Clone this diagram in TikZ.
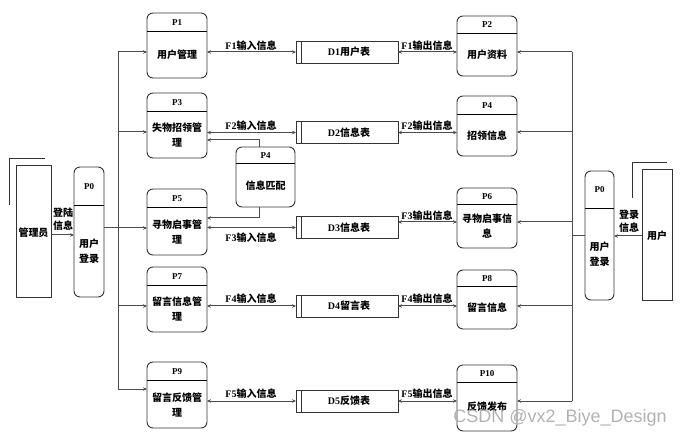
\documentclass[tikz,border=0pt]{standalone}
\usepackage{fontspec}
\setmainfont{Liberation Serif}
\newfontfamily\cjkf{Noto Sans CJK SC}
\newfontfamily\wmf{Liberation Sans}
\usetikzlibrary{arrows.meta,calc}
\newcommand\mkproc[8]{%
  \node[procbox, minimum width={#6*1pt}, minimum height={(#4-#3)*1pt}] (#1) at ({#2},{(#3+#4)/2}) {};
  \draw[divline] (#1.west |- 0,#5) -- (#1.east |- 0,#5);
  \node[titletext] (#1t) at ({#2},{(#3+#5)/2}) {#7};
  \node[bodytext, text width={(#6-6)*1pt}] (#1b) at ({#2},{(#5+#4)/2}) {#8};
}
\begin{document}
\begin{tikzpicture}[x=1pt,y=-1pt,
  procbox/.style={draw=black!80, line width=0.9pt, rounded corners=6pt, inner sep=0pt, outer sep=0pt},
  divline/.style={draw=black, line width=1pt},
  titletext/.style={font=\bfseries\fontsize{9}{10}\selectfont, inner sep=0pt},
  bodytext/.style={font=\cjkf\bfseries\fontsize{10}{15}\selectfont, align=center, inner sep=0pt},
  storebox/.style={draw=black!80, line width=0.8pt, minimum width=102pt, minimum height=22pt, inner sep=0pt, outer sep=0pt},
  entity/.style={draw=black!80, line width=0.9pt, inner sep=0pt, outer sep=0pt},
  conn/.style={draw=black!70, line width=1pt},
  arr/.style={conn, -{Stealth[length=4pt,width=3.5pt]}},
  biarr/.style={conn, {Stealth[length=4pt,width=3.5pt]}-{Stealth[length=4pt,width=3.5pt]}},
  flowlbl/.style={font=\fontsize{10}{12}\selectfont\bfseries, inner sep=0pt},
]
\useasboundingbox (0,0) rectangle (683,438);

% external entities
\node[entity, minimum width=35pt, minimum height=132pt] (admin) at (33.5,231) {};
\node[bodytext] (admint) at (33.5,233) {管理员};
\draw[entity] (9,205) -- (9,158) -- (45,158);
\node[entity, minimum width=30pt, minimum height=131pt] (user) at (657,234.5) {};
\node[bodytext] (usert) at (657,236) {用户};
\draw[entity] (632,198) -- (632,162) -- (667,162);

% P0 login boxes
\mkproc{lp0}{89}{167}{297}{206}{30}{P0}{\fontsize{10}{14}\selectfont 用户\\登录}
\mkproc{rp0}{599.5}{171}{300}{209}{29}{P0}{\fontsize{10}{14}\selectfont 用户\\登录}

% left processes
\mkproc{p1}{177}{13}{78}{32}{60}{P1}{用户管理}
\mkproc{p3}{177}{93}{158}{112}{60}{P3}{失物招领管\\理}
\mkproc{p5}{177}{189}{255}{208}{60}{P5}{寻物启事管\\理}
\mkproc{p7}{177}{267}{332}{286}{60}{P7}{留言信息管\\理}
\mkproc{p9}{177}{362}{428}{381}{60}{P9}{留言反馈管\\理}

% right processes
\mkproc{p2}{487}{16}{76}{34}{60}{P2}{用户资料}
\mkproc{p4}{487}{96}{156}{115}{60}{P4}{招领信息}
\mkproc{p6}{487}{188}{248}{205}{60}{P6}{寻物启事信\\息}
\mkproc{p8}{487}{270}{329}{287}{60}{P8}{留言信息}
\mkproc{p10}{487}{365}{431}{383}{60}{P10}{反馈发布}

% middle P4
\mkproc{pm4}{265.5}{147}{207}{164}{59}{P4}{信息匹配}

% data stores
\foreach \n/\y in {d1/52, d2/132.5, d3/227.5, d4/306, d5/401}{
  \node[storebox] (\n) at (347,\y) {};
  \draw[entity] ($(\n.north west)+(5,0)$) -- ($(\n.south west)+(5,0)$);
}
\node[flowlbl] (d1t) at (349,52) {D1{\cjkf 用户表}};
\node[flowlbl] (d2t) at (349,132.5) {D2{\cjkf 信息表}};
\node[flowlbl] (d3t) at (349,227.5) {D3{\cjkf 信息表}};
\node[flowlbl] (d4t) at (349,306) {D4{\cjkf 留言表}};
\node[flowlbl] (d5t) at (349,401) {D5{\cjkf 反馈表}};

% login arrows
\draw[arr] (admin.east |- 0,235) -- (lp0.west |- 0,235);
\node[bodytext, font=\cjkf\bfseries\fontsize{10}{13}\selectfont] (l1) at (63,219) {登陆\\信息};
\draw[arr] (user.west |- 0,236) -- (rp0.east |- 0,236);
\node[bodytext, font=\cjkf\bfseries\fontsize{10}{13}\selectfont] (l2) at (629,221) {登录\\信息};

% left bus
\coordinate (lbt) at (118,52);
\coordinate (lbb) at (118,389);
\draw[conn] (lp0.east |- 0,228) -- (118,228);
\draw[conn] (lbt) -- (lbb);
\draw[arr] (lbt) -- (p1.west |- lbt);
\draw[arr] (118,132) -- (p3.west |- 0,132);
\draw[arr] (118,228) -- (p5.west |- 0,228);
\draw[arr] (118,306) -- (p7.west |- 0,306);
\draw[arr] (lbb) -- (p9.west |- lbb);

% right bus
\coordinate (rbt) at (572,52);
\coordinate (rbb) at (572,401);
\draw[conn] (rp0.west |- 0,236) -- (572,236);
\draw[conn] (rbt) -- (rbb);
\draw[arr] (rbt) -- (p2.east |- rbt);
\draw[arr] (572,132) -- (p4.east |- 0,132);
\draw[arr] (572,222) -- (p6.east |- 0,222);
\draw[arr] (572,306) -- (p8.east |- 0,306);
\draw[arr] (rbb) -- (p10.east |- rbb);

% P4 match links
\draw[arr] ($(pm4.north)+(-6.5,0)$) |- (p3.east |- 0,140);
\draw[arr] ($(pm4.south)+(-6.5,0)$) |- (p5.east |- 0,218);

% flows left
\draw[biarr] (p1.east |- d1.west) -- (d1.west);
\draw[biarr] (p3.east |- d2.west) -- (d2.west);
\draw[biarr] (p5.east |- d3.west) -- (d3.west);
\draw[biarr] (p7.east |- d4.west) -- (d4.west);
\draw[biarr] (p9.east |- d5.west) -- (d5.west);
\node[flowlbl] (f1i) at (251,46) {F1{\cjkf 输入信息}};
\node[flowlbl] (f2i) at (251,126) {F2{\cjkf 输入信息}};
\node[flowlbl] (f3i) at (251,238) {F3{\cjkf 输入信息}};
\node[flowlbl] (f4i) at (251,299) {F4{\cjkf 输入信息}};
\node[flowlbl] (f5i) at (251,394) {F5{\cjkf 输入信息}};

% flows right
\draw[biarr] (d1.east) -- (p2.west |- d1.east);
\draw[biarr] (d2.east) -- (p4.west |- d2.east);
\draw[biarr] (d3.east |- 0,222) -- (p6.west |- 0,222);
\draw[biarr] (d4.east) -- (p8.west |- d4.east);
\draw[biarr] (d5.east) -- (p10.west |- d5.east);
\node[flowlbl] (f1o) at (427,46) {F1{\cjkf 输出信息}};
\node[flowlbl] (f2o) at (427,126) {F2{\cjkf 输出信息}};
\node[flowlbl] (f3o) at (427,216) {F3{\cjkf 输出信息}};
\node[flowlbl] (f4o) at (427,299) {F4{\cjkf 输出信息}};
\node[flowlbl] (f5o) at (427,394) {F5{\cjkf 输出信息}};

% watermark
\node[font=\wmf\fontsize{18}{20}\selectfont, text=black!30, inner sep=0pt] (wm) at (560,418) {CSDN @vx2\_Biye\_Design};
\end{tikzpicture}
\end{document}
